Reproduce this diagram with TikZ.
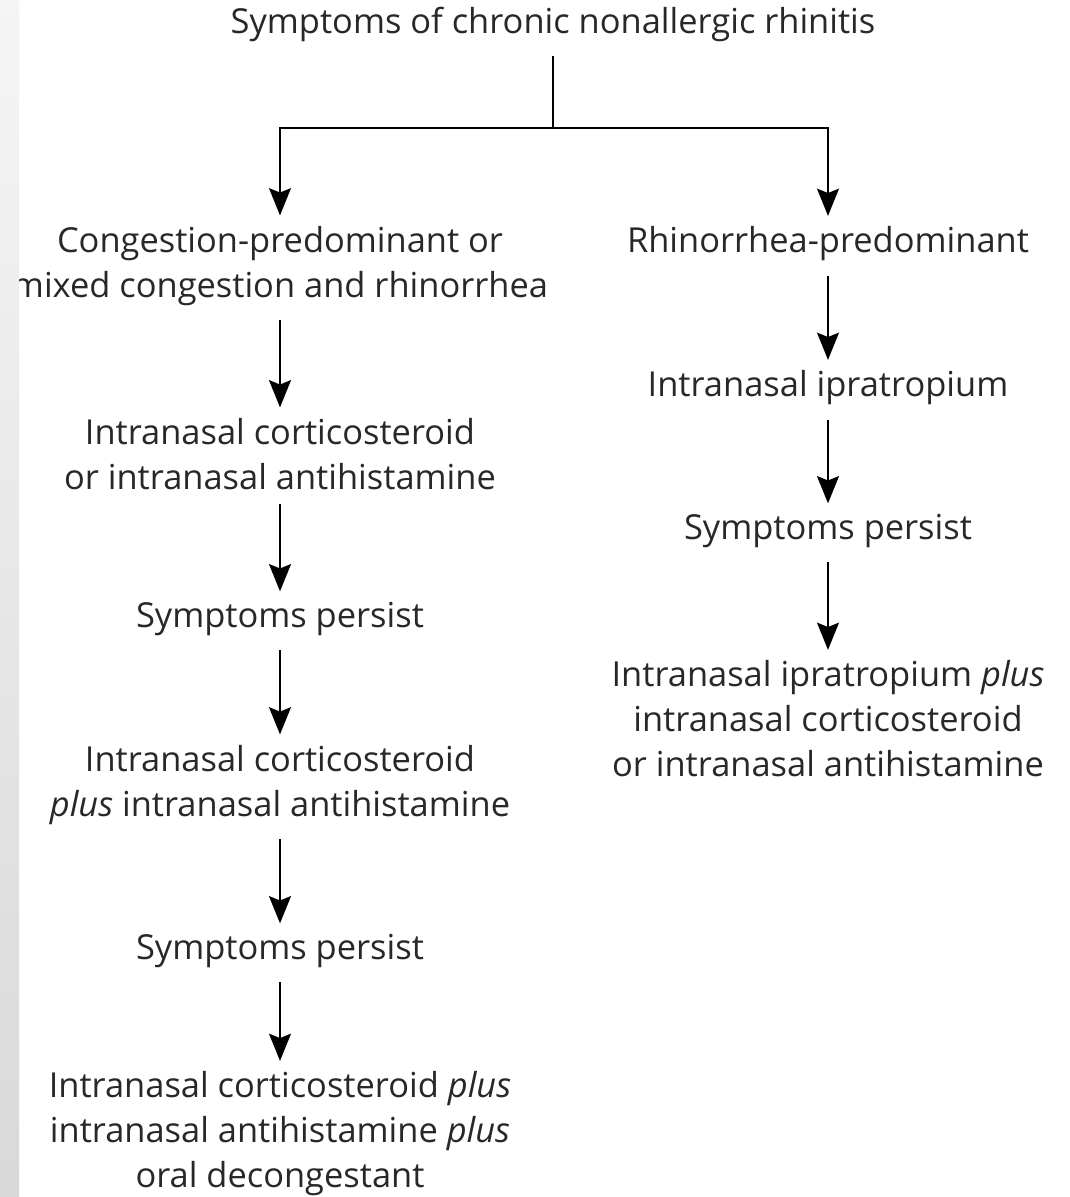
\documentclass[tikz,border=0pt]{standalone}
\usepackage{fontspec}
\setmainfont{Open Sans}
\usepackage{tikz}
\usetikzlibrary{arrows.meta, positioning, calc}
\definecolor{txtgray}{RGB}{40, 40, 40}

\tikzset{
	box/.style={align=center, inner xsep=0pt, inner ysep=0pt, text=txtgray,
		font=\fontsize{19.6}{25.6}\selectfont},
	arr/.style={-{Stealth[length=15.5pt,width=12.5pt,inset=2.5pt]}, line width=1.1pt,
		shorten <=8pt, shorten >=6pt},
	link/.style={line width=1.1pt}
}

\begin{document}
\begin{tikzpicture}[x=0.02cm,y=-0.02cm]
				\useasboundingbox[fill=white] (0,0) rectangle (1069,1197);
				% top
				\node[box] (title) at (553,24) {Symptoms of chronic nonallergic rhinitis};
				\coordinate (split) at (553,128);
				% left column
				\node[box] (cong) at (280,266) {Congestion-predominant or\\mixed congestion and rhinorrhea};
				\node[box] (ics) at (280,454) {Intranasal corticosteroid\\or intranasal antihistamine};
				\node[box] (sp1) at (280,619) {Symptoms persist};
				\node[box] (combo) at (280,785) {Intranasal corticosteroid\\\textit{plus} intranasal antihistamine};
				\node[box] (sp2) at (280,951) {Symptoms persist};
				\node[box] (triple) at (280,1134) {Intranasal corticosteroid \textit{plus}\\intranasal antihistamine \textit{plus}\\oral decongestant};
				% right column
				\node[box] (rhin) at (828,244) {Rhinorrhea-predominant};
				\node[box] (ipra) at (828,388) {Intranasal ipratropium};
				\node[box] (sp3) at (828,531) {Symptoms persist};
				\node[box] (ipracombo) at (828,719) {Intranasal ipratropium \textit{plus}\\intranasal corticosteroid\\or intranasal antihistamine};
				% connectors
				\draw[link,shorten <=8pt] (title.south) -- (split);
				\draw[arr,shorten <=0pt] (split) -| (cong.north);
				\draw[arr,shorten <=0pt] (split) -| (rhin.north);
				\draw[arr] (cong) -- (ics);
				\draw[arr] (ics) -- (sp1);
				\draw[arr] (sp1) -- (combo);
				\draw[arr] (combo) -- (sp2);
				\draw[arr] (sp2) -- (triple);
				\draw[arr] (rhin) -- (ipra);
				\draw[arr] (ipra) -- (sp3);
				\draw[arr] (sp3) -- (ipracombo);
				% gray strip at the left edge
				\shade[top color=gray!8, bottom color=gray!30] (0,0) rectangle (19,1197);
			\end{tikzpicture}
\end{document}
